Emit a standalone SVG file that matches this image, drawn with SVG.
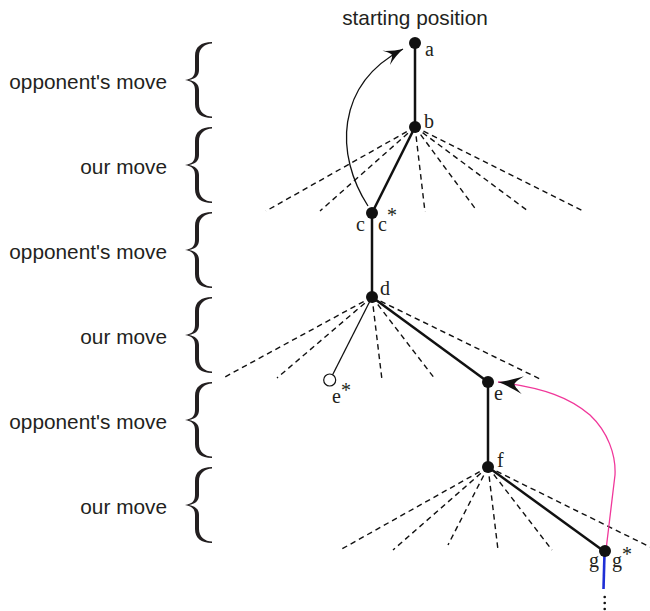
<svg xmlns="http://www.w3.org/2000/svg" width="650" height="611" viewBox="0 0 650 611">
<style>
.lbl{font-family:"Liberation Sans",Arial,sans-serif;font-size:20.8px;fill:#231f20}
.nl{font-family:"Liberation Serif","Times New Roman",serif;font-size:20px;fill:#231f20}
.ast{font-family:"Liberation Serif","Times New Roman",serif;font-size:20px;fill:#231f20}
.node{fill:#111}
.edge{stroke:#111;stroke-width:2.5;fill:none}
.dash{stroke:#111;stroke-width:1.4;stroke-dasharray:5.5 4;fill:none}
.brace{fill:#231f20}
</style>
<defs>
<path id="brace" class="brace" d="M27 -38 C16 -38 10 -33 10 -24 L10 -10 C10 -4 7 -1 0 0 C7 1 10 4 10 10 L10 24 C10 33 16 38 27 38 L27 36.6 C20 36.3 14 32 14 24 L14 10 C14 4 10 1 4 0 C10 -1 14 -4 14 -10 L14 -24 C14 -32 20 -36.3 27 -36.6 Z"/>
<marker id="arrK" markerUnits="userSpaceOnUse" markerWidth="24" markerHeight="20" viewBox="-20 -10 24 20" refX="0" refY="0" orient="auto">
<path d="M0 0 C-6 -1.5 -13 -4.5 -19 -8 C-15 -4 -13 -2 -12.5 0 C-13 2 -15 4 -19 8 C-13 4.5 -6 1.5 0 0 Z" fill="#111"/>
</marker>
<marker id="arrP" markerUnits="userSpaceOnUse" markerWidth="30" markerHeight="20" viewBox="-26 -10 30 20" refX="0" refY="0" orient="auto">
<path d="M0 0 C-7 -1.5 -16 -5 -25 -9 C-19 -4 -17 -2 -16.5 0 C-17 2 -19 4 -25 9 C-16 5 -7 1.5 0 0 Z" fill="#111"/>
</marker>
</defs>

<g id="title"><text class="lbl" x="415" y="25" text-anchor="middle">starting position</text></g>

<g id="rows">
<use href="#brace" x="185" y="80"/>
<text class="lbl" x="167" y="89" text-anchor="end">opponent's move</text>
<use href="#brace" x="185" y="165"/>
<text class="lbl" x="167" y="174" text-anchor="end">our move</text>
<use href="#brace" x="185" y="250"/>
<text class="lbl" x="167" y="259" text-anchor="end">opponent's move</text>
<use href="#brace" x="185" y="335"/>
<text class="lbl" x="167" y="344" text-anchor="end">our move</text>
<use href="#brace" x="185" y="420"/>
<text class="lbl" x="167" y="429" text-anchor="end">opponent's move</text>
<use href="#brace" x="185" y="505"/>
<text class="lbl" x="167" y="514" text-anchor="end">our move</text>
</g>

<g id="connectors">
<line class="dash" x1="415" y1="127" x2="266" y2="211"/>
<line class="dash" x1="415" y1="127" x2="320" y2="211"/>
<line class="dash" x1="415" y1="127" x2="425" y2="212"/>
<line class="dash" x1="415" y1="127" x2="477" y2="211"/>
<line class="dash" x1="415" y1="127" x2="528" y2="211"/>
<line class="dash" x1="415" y1="127" x2="583" y2="211"/>
<line class="dash" x1="372" y1="297" x2="223" y2="378"/>
<line class="dash" x1="372" y1="297" x2="277" y2="378"/>
<line class="dash" x1="372" y1="297" x2="382" y2="380"/>
<line class="dash" x1="372" y1="297" x2="435" y2="379"/>
<line class="dash" x1="372" y1="297" x2="540" y2="379"/>
<line class="dash" x1="488" y1="467" x2="340" y2="550"/>
<line class="dash" x1="488" y1="467" x2="393" y2="550"/>
<line class="dash" x1="488" y1="467" x2="448" y2="545"/>
<line class="dash" x1="488" y1="467" x2="498" y2="550"/>
<line class="dash" x1="488" y1="467" x2="552" y2="550"/>
<line class="dash" x1="488" y1="467" x2="650" y2="547"/>
<line class="edge" x1="415" y1="43" x2="415" y2="127"/>
<line class="edge" x1="415" y1="127" x2="372" y2="213"/>
<line class="edge" x1="372" y1="213" x2="372" y2="297"/>
<line class="edge" x1="372" y1="297" x2="488" y2="382"/>
<line class="edge" x1="488" y1="382" x2="488" y2="467"/>
<line class="edge" x1="488" y1="467" x2="605" y2="552"/>
<line x1="372" y1="297" x2="332.5" y2="375" stroke="#111" stroke-width="1.3"/>
<line x1="604.5" y1="553" x2="603.5" y2="589" stroke="#1f2fd6" stroke-width="2.6"/>
<path d="M368 206 C335 155 335 85 403 49" fill="none" stroke="#111" stroke-width="1.3" marker-end="url(#arrK)"/>
<path d="M606 550 L615 475 C616 455 608 432 590 415 C570 398 545 388 498 382" fill="none" stroke="#f0379a" stroke-width="1.3" marker-end="url(#arrP)"/>
</g>

<g id="node-a"><circle class="node" cx="415" cy="43" r="6"/><text class="nl" x="425" y="56">a</text></g>
<g id="node-b"><circle class="node" cx="415" cy="127" r="6"/><text class="nl" x="424" y="128">b</text></g>
<g id="node-c"><circle class="node" cx="372" cy="213" r="6"/><text class="nl" x="356" y="231">c</text><text class="nl" x="378" y="231">c</text><text class="ast" x="392" y="222" text-anchor="middle">*</text></g>
<g id="node-d"><circle class="node" cx="372" cy="297" r="6"/><text class="nl" x="380" y="295">d</text></g>
<g id="node-e-star"><circle cx="329.7" cy="380" r="6" fill="#fff" stroke="#111" stroke-width="1.2"/><text class="nl" x="332" y="403">e</text><text class="ast" x="346" y="397" text-anchor="middle">*</text></g>
<g id="node-e"><circle class="node" cx="488" cy="382" r="6"/><text class="nl" x="494" y="400">e</text></g>
<g id="node-f"><circle class="node" cx="488" cy="467" r="6"/><text class="nl" x="497" y="467">f</text></g>
<g id="node-g"><circle class="node" cx="605" cy="551" r="6"/><text class="nl" x="589" y="567">g</text><text class="nl" x="612" y="567">g</text><text class="ast" x="627" y="561" text-anchor="middle">*</text>
<circle cx="604.7" cy="597" r="1.3" fill="#111"/><circle cx="604.7" cy="603" r="1.3" fill="#111"/><circle cx="604.7" cy="609" r="1.3" fill="#111"/></g>
</svg>
